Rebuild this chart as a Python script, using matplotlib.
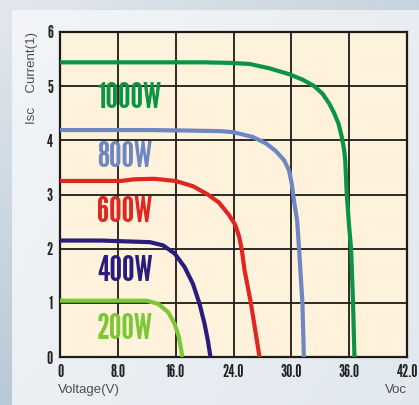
import numpy as np
import matplotlib
matplotlib.use('Agg')
import matplotlib.pyplot as plt

# I-V curves of a panel at five irradiance levels (volts, amps)
series_names = ['1000W', '800W', '600W', '400W', '200W']
v_1000 = [0, 12, 20, 23.45, 25.66, 27.72, 29.79, 31.17, 32.38, 33.24, 33.93, 34.45, 34.89,
          35.24, 35.48, 35.59, 35.75, 36.0, 36.2, 36.4, 36.55]
i_1000 = [5.44, 5.44, 5.44, 5.43, 5.41, 5.33, 5.22, 5.12, 5.0, 4.86, 4.68, 4.5, 4.31,
          4.06, 3.82, 3.63, 3.0, 2.4, 2.0, 1.0, 0]
v_800 = [0, 12, 18, 22.2, 24.0, 26.03, 27.4, 28.4, 29.26, 29.77, 30.04, 30.27, 30.6, 30.8, 31.15, 31.3]
i_800 = [4.19, 4.19, 4.18, 4.17, 4.15, 4.06, 3.94, 3.8, 3.63, 3.44, 3.2, 2.89, 2.52, 2.0, 1.0, 0]
v_600 = [0, 8.4, 10.25, 13.0, 16.0, 18.44, 20.44, 22.0, 23.33, 24.18, 24.59, 24.86, 25.14, 25.8, 26.7]
i_600 = [3.25, 3.25, 3.28, 3.29, 3.25, 3.15, 3.0, 2.85, 2.63, 2.44, 2.22, 1.98, 1.61, 1.0, 0]
v_400 = [0, 5.64, 12.46, 14.27, 15.86, 17.24, 18.39, 19.31, 20.0, 20.46, 20.79, 20.85]
i_400 = [2.15, 2.15, 2.12, 2.06, 1.91, 1.66, 1.35, 0.98, 0.61, 0.3, 0.02, 0]
v_200 = [0, 8, 12.0, 13.59, 14.95, 15.86, 16.44, 16.78, 16.92]
i_200 = [1.04, 1.04, 1.04, 0.98, 0.83, 0.61, 0.37, 0.12, 0]

x_ticks = [0, 8, 16, 24, 30, 36, 42]
x_tick_labels = ['0', '8.0', '16.0', '24.0', '30.0', '36.0', '42.0']
y_ticks = [0, 1, 2, 3, 4, 5, 6]

colors = ['#0b9444', '#6e86c2', '#e0261f', '#2a1c7c', '#7cc734']
label_y = [0.795, 0.613, 0.444, 0.263, 0.084]

W, H = 419, 405
fig = plt.figure(figsize=(W / 100, H / 100), dpi=100)

# background: bluish frame + lighter panel
bax = fig.add_axes([0, 0, 1, 1], zorder=-5)
gx, gy = np.meshgrid(np.linspace(0, 1, W), np.linspace(0, 1, H))
c_tl = np.array([0.89, 0.91, 0.93])
c_r = np.array([0.77, 0.82, 0.86])
c_b = np.array([0.72, 0.79, 0.84])
outer = c_tl + (c_r - c_tl) * gx[..., None] * 0.9 + (c_b - c_tl) * gy[..., None]
outer = np.clip(outer, 0, 1)
p_tl = np.array([0.955, 0.963, 0.972])
p_r = np.array([0.88, 0.91, 0.935])
panel = p_tl + (p_r - p_tl) * (0.6 * gx[..., None] + 0.4 * gy[..., None])
img = outer.copy()
img[10:, 12:] = panel[10:, 12:]
bax.imshow(img, extent=[0, W, H, 0], aspect='auto', interpolation='bilinear')
bax.set_xlim(0, W)
bax.set_ylim(H, 0)
bax.axis('off')

ax = fig.add_axes([60 / W, 1 - 357 / H, 347 / W, 325 / H])
ax.set_facecolor('#fef2dd')

cols = np.arange(len(x_ticks))
def fwd(v):
    return np.interp(v, x_ticks, cols)
def inv(c):
    return np.interp(c, cols, x_ticks)
ax.set_xscale('function', functions=(fwd, inv))

curves = [(v_1000, i_1000), (v_800, i_800), (v_600, i_600), (v_400, i_400), (v_200, i_200)]
for (v, i), col in zip(curves, colors):
    ax.plot(v, i, color=col, lw=3, solid_joinstyle='round', solid_capstyle='butt', zorder=3)

for name, col, ly in zip(series_names, colors, label_y):
    ax.text(0.107, ly, name, transform=ax.transAxes, color=col, family='League Gothic',
            fontsize=25.5, ha='left', va='center', zorder=4)

ax.set_xlim(0, 42)
ax.set_ylim(0, 6)
ax.set_xticks(x_ticks)
ax.set_xticklabels(x_tick_labels)
ax.set_yticks(y_ticks)
ax.set_yticklabels([str(t) for t in y_ticks])
ax.xaxis.set_minor_locator(matplotlib.ticker.NullLocator())
ax.grid(True, color='#1e1a16', lw=1.3, zorder=1)
ax.set_axisbelow(True)
for s in ax.spines.values():
    s.set_color('#1e1a16')
    s.set_linewidth(1.6)
ax.tick_params(length=0, pad=5, labelcolor='#222222')
for lab in ax.get_xticklabels() + ax.get_yticklabels():
    lab.set_family('League Gothic')
    lab.set_fontsize(12.5)

fig.text(58 / W, 1 - 390 / H, 'Voltage(V)', family='Liberation Sans', fontsize=9.5,
         color='#4d4d4d', ha='left', va='center')
fig.text(407 / W, 1 - 390 / H, 'Voc', family='Liberation Sans', fontsize=9.5,
         color='#4d4d4d', ha='right', va='center')
fig.text(32 / W, 1 - 78 / H, 'Isc    Current(1)', family='Liberation Sans', fontsize=9.5,
         color='#4d4d4d', ha='center', va='center', rotation=90)

fig.savefig('out.png', dpi=100)
